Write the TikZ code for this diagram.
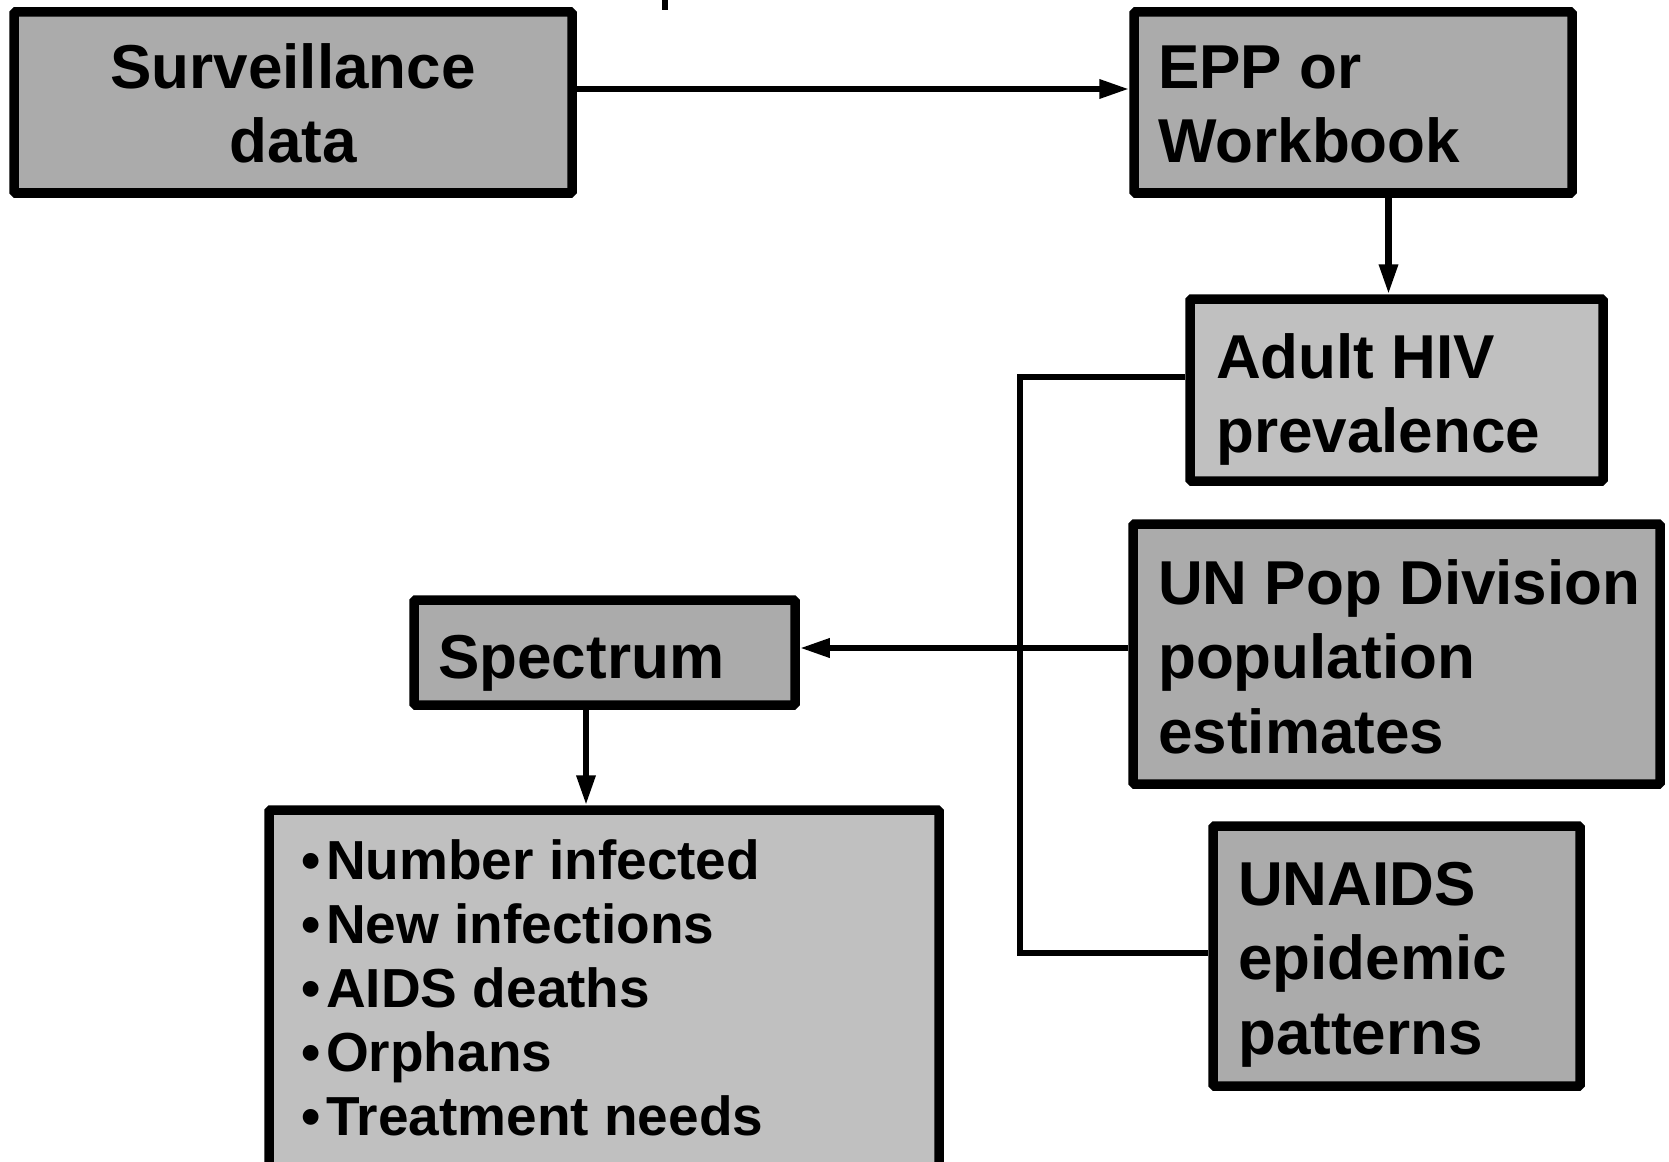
\documentclass[tikz,border=0pt]{standalone}
\usepackage{fontspec}
\setmainfont{Liberation Sans}
\usetikzlibrary{arrows.meta,calc}
\definecolor{darkbox}{HTML}{ABABAB}
\definecolor{lightbox}{HTML}{C0C0C0}
\begin{document}
\begin{tikzpicture}[x=1pt,y=-1pt,
  box/.style={draw=black, line width=9.5pt, rounded corners=1.5pt, inner sep=0pt},
  dbox/.style={box, fill=darkbox},
  lbox/.style={box, fill=lightbox},
  big/.style={font=\fontsize{62}{74.5}\selectfont\bfseries, inner sep=0pt, anchor=north west, align=left},
  lst/.style={font=\fontsize{55}{64}\selectfont\bfseries, inner sep=0pt, anchor=north west, align=left},
  conn/.style={line width=6.3pt, line join=miter},
  arr/.style={conn, -{Triangle[length=30pt,width=18pt]}},
]
\useasboundingbox (0,0) rectangle (1669,1161);
\clip (0,0) rectangle (1669,1161);

% boxes
\node[dbox, minimum width=558pt, minimum height=181pt] (surv) at (293,102.5) {};
\node[dbox, minimum width=438pt, minimum height=181pt] (epp) at (1353,102.5) {};
\node[lbox, minimum width=413pt, minimum height=182pt] (adult) at (1396.5,390) {};
\node[dbox, minimum width=527pt, minimum height=260pt] (unpop) at (1396.5,654) {};
\node[dbox, minimum width=367pt, minimum height=260pt] (unaids) at (1396.5,956) {};
\node[dbox, minimum width=381pt, minimum height=105pt] (spec) at (604.5,652.5) {};
\node[lbox, minimum width=670pt, minimum height=360pt] (out) at (604,990) {};

% texts
\node[big, anchor=north, align=center] (survt) at (293,38) {\rule{0pt}{50pt}Surveillance\\data};
\node[big] (eppt) at (1158,38) {\rule{0pt}{50pt}EPP or\\Workbook};
\node[big] (adultt) at (1216,328) {\rule{0pt}{50pt}Adult HIV\\prevalence};
\node[big] (unpopt) at (1158,554) {\rule{0pt}{50pt}UN Pop Division\\population\\estimates};
\node[big] (unaidst) at (1238,855) {\rule{0pt}{50pt}UNAIDS\\epidemic\\patterns};
\node[big] (spect) at (438,628) {\rule{0pt}{50pt}Spectrum};
\node[lst] (outt) at (301,835) {\rule{0pt}{44pt}\makebox[25pt][l]{•}Number infected\\
  \makebox[25pt][l]{•}New infections\\
  \makebox[25pt][l]{•}AIDS deaths\\
  \makebox[25pt][l]{•}Orphans\\
  \makebox[25pt][l]{•}Treatment needs};

% fragment of cut-off title
\fill[black] (662,0) rectangle (668,10);

% connectors
\coordinate (ya) at (0,89);
\coordinate (xb) at (1388.5,0);
\coordinate (yc) at (0,377);
\coordinate (xd) at (1020,0);
\coordinate (ye) at (0,953);
\coordinate (yf) at (0,648);
\coordinate (xg) at (586,0);
\draw[arr] (surv.east |- ya) -- (epp.west |- ya);
\draw[arr] (epp.south -| xb) -- (adult.north -| xb);
\draw[conn] (adult.west |- yc) -| (xd |- ye) -- (unaids.west |- ye);
\draw[arr] (unpop.west |- yf) -- (spec.east |- yf);
\draw[arr] (spec.south -| xg) -- (out.north -| xg);
\end{tikzpicture}
\end{document}
